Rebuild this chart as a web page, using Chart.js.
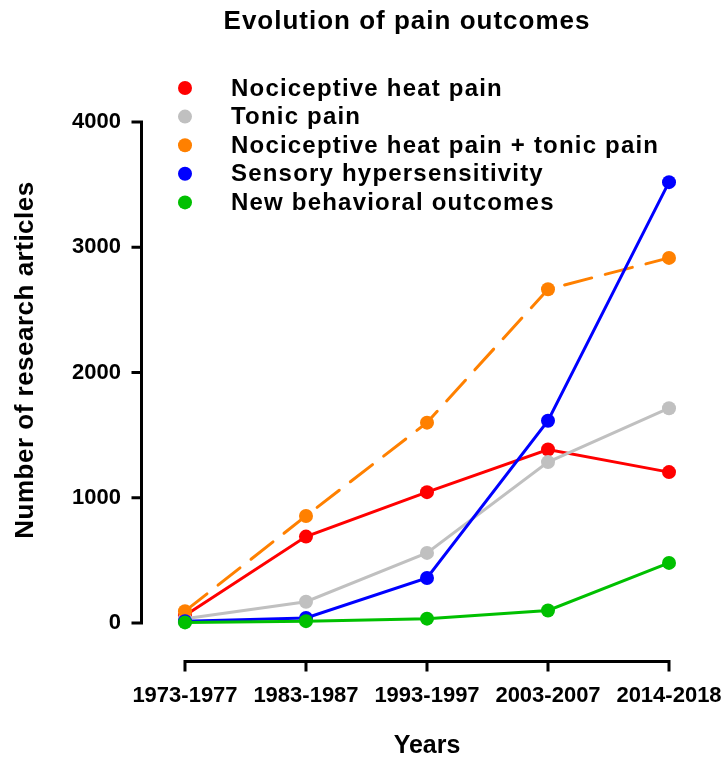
<!DOCTYPE html>
<html>
<head>
<meta charset="utf-8">
<script src="https://cdn.jsdelivr.net/npm/chart.js@4.4.0/dist/chart.umd.min.js"></script>
<style>
  html, body { margin: 0; padding: 0; background: #fff; }
</style>
</head>
<body>
<canvas id="myChart" width="725" height="764"></canvas>
<script>
const periods = ['1973-1977', '1983-1987', '1993-1997', '2003-2007', '2014-2018'];
const yTicks = [0, 1000, 2000, 3000, 4000];

const heatPain = [60, 690, 1045, 1385, 1205];
const tonicPain = [35, 170, 560, 1285, 1715];
const heatPlusTonic = [95, 855, 1600, 2665, 2915];
const hypersensitivity = [15, 40, 360, 1615, 3520];
const newOutcomes = [5, 15, 35, 100, 480];

const FONT = '"Liberation Sans", Arial, sans-serif';

const toPoints = (vals) => vals.map((v, i) => ({x: i, y: v}));

const makeSet = (label, color, vals, order, dash) => ({
    label: label,
    data: toPoints(vals),
    borderColor: color,
    backgroundColor: color,
    pointBackgroundColor: color,
    pointBorderColor: color,
    pointBorderWidth: 0,
    borderWidth: 3,
    pointRadius: 7,
    pointHoverRadius: 7,
    borderDash: dash || [],
    borderCapStyle: 'round',
    tension: 0,
    clip: false,
    order: order
});

// axes are drawn detached from each other, like the original figure
const axesPlugin = {
    id: 'detachedAxes',
    beforeDatasetsDraw(chart) {
        const {ctx, chartArea, scales: {x, y}} = chart;
        ctx.save();
        ctx.strokeStyle = '#000';
        ctx.lineWidth = 3;
        ctx.lineCap = 'butt';

        const ax = chartArea.left - 1.5;
        const yTop = y.getPixelForValue(yTicks[yTicks.length - 1]);
        const yBot = y.getPixelForValue(yTicks[0]);
        ctx.beginPath();
        ctx.moveTo(ax, yTop - 1.5);
        ctx.lineTo(ax, yBot + 1.5);
        yTicks.forEach((v) => {
            const py = y.getPixelForValue(v);
            ctx.moveTo(ax - 10, py);
            ctx.lineTo(ax + 1.5, py);
        });
        ctx.stroke();

        const ay = chartArea.bottom - 1.5;
        const xL = x.getPixelForValue(0);
        const xR = x.getPixelForValue(periods.length - 1);
        ctx.beginPath();
        ctx.moveTo(xL - 1.5, ay);
        ctx.lineTo(xR + 1.5, ay);
        periods.forEach((p, i) => {
            const px = x.getPixelForValue(i);
            ctx.moveTo(px, ay - 1.5);
            ctx.lineTo(px, ay + 10);
        });
        ctx.stroke();
        ctx.restore();
    }
};

const textPlugin = {
    id: 'labelsAndLegend',
    afterDraw(chart) {
        const {ctx, scales: {x}} = chart;
        ctx.save();
        ctx.fillStyle = '#000';
        ctx.textAlign = 'center';
        ctx.textBaseline = 'middle';

        ctx.font = 'bold 26px ' + FONT;
        ctx.letterSpacing = '1px';
        ctx.fillText('Evolution of pain outcomes', 407, 22);

        ctx.font = 'bold 25px ' + FONT;
        ctx.letterSpacing = '0px';
        ctx.fillText('Years', (x.getPixelForValue(0) + x.getPixelForValue(periods.length - 1)) / 2, 746);

        ctx.save();
        ctx.translate(26, 360);
        ctx.rotate(-Math.PI / 2);
        ctx.font = 'bold 26px ' + FONT;
        ctx.letterSpacing = '0.5px';
        ctx.fillText('Number of research articles', 0, 0);
        ctx.restore();

        ctx.textAlign = 'left';
        ctx.font = 'bold 24px ' + FONT;
        ctx.letterSpacing = '1.2px';
        chart.data.datasets.forEach((ds, i) => {
            const yy = 88 + i * 28.6;
            ctx.fillStyle = ds.borderColor;
            ctx.beginPath();
            ctx.arc(185, yy, 7, 0, Math.PI * 2);
            ctx.fill();
            ctx.fillStyle = '#000';
            ctx.fillText(ds.label, 231, yy + 1);
        });
        ctx.restore();
    }
};

const ch = document.getElementById('myChart');
const painChart = new Chart(ch, {
    type: 'line',
    data: {
        datasets: [
            makeSet('Nociceptive heat pain', '#ff0000', heatPain, 5),
            makeSet('Tonic pain', '#c0c0c0', tonicPain, 4),
            makeSet('Nociceptive heat pain + tonic pain', '#ff8000', heatPlusTonic, 3, [28, 14]),
            makeSet('Sensory hypersensitivity', '#0000ff', hypersensitivity, 2),
            makeSet('New behavioral outcomes', '#00c000', newOutcomes, 1)
        ]
    },
    options: {
        responsive: false,
        animation: false,
        devicePixelRatio: 1,
        events: [],
        layout: {padding: {top: 122, right: 56, left: 0, bottom: 0}},
        plugins: {
            legend: {display: false},
            tooltip: {enabled: false},
            title: {display: false}
        },
        scales: {
            x: {
                type: 'linear',
                min: -0.347,
                max: periods.length - 1,
                afterBuildTicks: (s) => { s.ticks = periods.map((p, i) => ({value: i})); },
                afterFit: (s) => {
                    s.height = 101;
                    s.paddingLeft = 0;
                    s.paddingRight = 0;
                },
                grid: {display: false, drawTicks: false},
                border: {display: false},
                ticks: {
                    callback: (v) => periods[v],
                    autoSkip: false,
                    maxRotation: 0,
                    padding: 20,
                    color: '#000',
                    font: {family: FONT, size: 22, weight: 'bold'}
                }
            },
            y: {
                type: 'linear',
                min: -319,
                max: 4000,
                afterBuildTicks: (s) => { s.ticks = yTicks.map((v) => ({value: v})); },
                afterFit: (s) => {
                    s.width = 143;
                    s.paddingTop = 0;
                    s.paddingBottom = 0;
                },
                grid: {display: false, drawTicks: false},
                border: {display: false},
                ticks: {
                    callback: (v) => String(v),
                    padding: 22,
                    color: '#000',
                    font: {family: FONT, size: 22, weight: 'bold'}
                }
            }
        }
    },
    plugins: [axesPlugin, textPlugin]
});
</script>
</body>
</html>
